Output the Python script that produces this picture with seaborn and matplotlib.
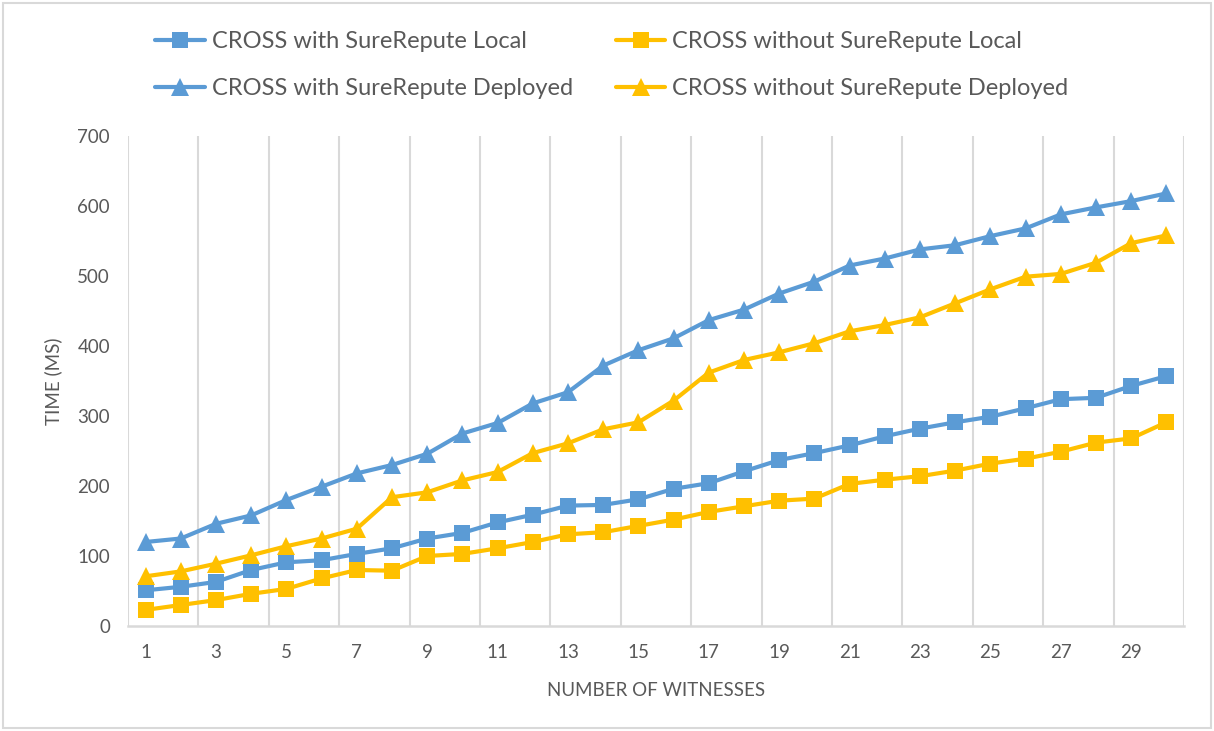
import matplotlib
matplotlib.use("Agg")
import matplotlib.pyplot as plt
from matplotlib.patches import Rectangle
import numpy as np
import pandas as pd
import seaborn as sns

# Number of witnesses (category axis)
witnesses = list(range(1, 31))

# Response time in ms for each configuration
with_local = [51, 56, 63, 80, 91, 94, 103, 111, 125, 133, 148, 159, 172, 173, 181,
              196, 204, 221, 237, 247, 258, 271, 282, 291, 299, 311, 324, 326, 343, 357]
without_local = [23, 30, 37, 46, 53, 68, 80, 79, 100, 103, 111, 120, 131, 134, 143,
                 152, 163, 171, 179, 182, 203, 209, 214, 222, 232, 239, 249, 262, 268, 291]
with_deployed = [120, 125, 146, 158, 180, 199, 218, 230, 246, 275, 290, 318, 334, 372, 394,
                 411, 437, 452, 475, 492, 515, 525, 538, 544, 557, 568, 588, 598, 607, 618]
without_deployed = [71, 78, 89, 101, 114, 125, 139, 184, 191, 208, 220, 247, 261, 281, 291,
                    322, 362, 380, 391, 404, 421, 430, 441, 461, 481, 499, 503, 519, 547, 558]

series_names = ["CROSS with SureRepute Local", "CROSS with SureRepute Deployed",
                "CROSS without SureRepute Local", "CROSS without SureRepute Deployed"]
series_values = [with_local, with_deployed, without_local, without_deployed]

y_ticks = [0, 100, 200, 300, 400, 500, 600, 700]
x_tick_labels = [str(v) for v in range(1, 30, 2)]

BLUE = "#5B9BD5"
GOLD = "#FFC000"
TEXT = "#595959"
GRID = "#D9D9D9"
styles = {
    series_names[0]: (BLUE, "s"),
    series_names[1]: (BLUE, "^"),
    series_names[2]: (GOLD, "s"),
    series_names[3]: (GOLD, "^"),
}

sns.set_theme(style="white")
plt.rcParams["font.family"] = ["Lato", "DejaVu Sans"]

fig = plt.figure(figsize=(12.14, 7.31), dpi=100)
ax = fig.add_axes([128 / 1214, 1 - 626 / 731, (1184 - 128) / 1214, (626 - 136) / 731])

frames = [pd.DataFrame({"witnesses": witnesses, "time": vals, "series": name})
          for name, vals in zip(series_names, series_values)]
df = pd.concat(frames, ignore_index=True)

for name in series_names:
    color, marker = styles[name]
    sub = df[df["series"] == name]
    sns.lineplot(data=sub, x="witnesses", y="time", ax=ax, color=color, linewidth=3.0,
                 marker=marker, markersize=12 if marker == "s" else 13,
                 markeredgewidth=0, label=name, zorder=3)

handles, labels = ax.get_legend_handles_labels()
ax.get_legend().remove()

ax.set_xlim(0.5, 30.5)
ax.set_ylim(0, 700)

# vertical gridlines every two categories, at category boundaries
for b in np.arange(0.5, 31, 2):
    ax.axvline(b, color=GRID, linewidth=1.5, zorder=1)

ax.set_xticks(range(1, 30, 2))
ax.set_xticklabels(x_tick_labels)
ax.set_yticks(y_ticks)
ax.set_yticklabels([str(v) for v in y_ticks])
ax.tick_params(axis="both", length=0, labelsize=13.5, labelcolor=TEXT)
ax.tick_params(axis="y", pad=13)
ax.tick_params(axis="x", pad=13)

for s in ["top", "right", "left"]:
    ax.spines[s].set_visible(False)
ax.spines["bottom"].set_color(GRID)
ax.spines["bottom"].set_linewidth(1.8)

ax.set_xlabel("NUMBER OF WITNESSES", fontsize=13.5, color=TEXT, labelpad=15)
ax.set_ylabel("TIME (MS)", fontsize=13.5, color=TEXT, labelpad=11)

fig.legend(handles, labels, ncol=2, loc="center", bbox_to_anchor=(612 / 1214, 1 - 65 / 731),
           frameon=False, fontsize=17, labelcolor=TEXT, handlelength=2.1,
           columnspacing=1.8, labelspacing=1.12, handletextpad=0.3)

fig.add_artist(Rectangle((3 / 1214, 3 / 731), 1208 / 1214, 725 / 731, transform=fig.transFigure,
                         fill=False, edgecolor=GRID, linewidth=1.5))

fig.savefig("out.png", dpi=100)
